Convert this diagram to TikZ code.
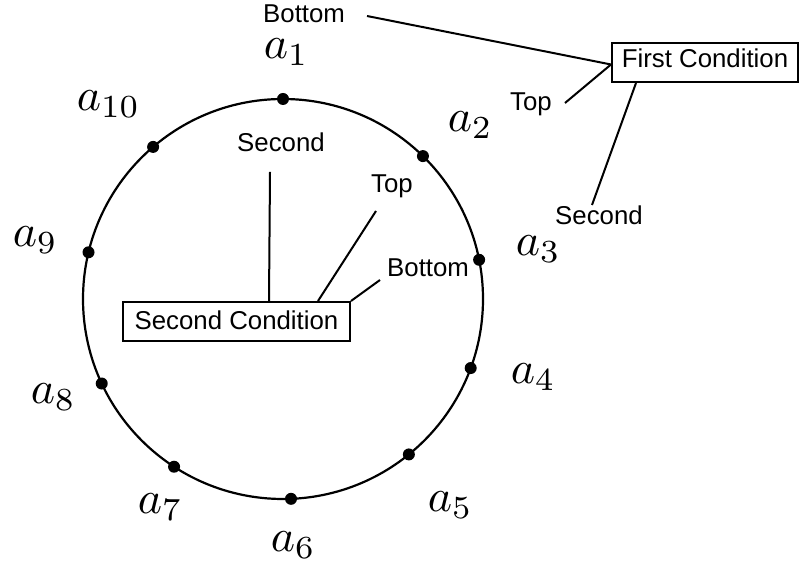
\documentclass[tikz,border=0pt]{standalone}
\usepackage{fontspec}
\newfontfamily\labfont{Liberation Sans}
\begin{document}
\begin{tikzpicture}[x=1pt,y=1pt,
  txt/.style={font=\labfont\fontsize{25.8}{30}\selectfont, inner sep=0pt, anchor=base west},
  mlab/.style={scale=4.6, inner sep=0pt, anchor=base west},
  cond/.style={draw, line width=2pt, font=\labfont\fontsize{25.8}{30}\selectfont, inner sep=0pt, minimum height=39pt, text height=18.5pt},
  dot/.style={circle, fill, inner sep=0pt, minimum size=12pt},
  conn/.style={line width=2pt}]
\useasboundingbox (0,0) rectangle (800,569);

% circle with points
\coordinate (O) at (283,270);
\draw[line width=2.2pt] (O) circle[radius=200];
\foreach \n/\ang in {1/90,2/45.6,3/11.3,4/-20.2,5/-51,6/-87.7,7/-123,8/-155,9/166.5,10/130.5}
  \node[dot] (p\n) at ([shift={(\ang:200)}]O) {};

% point labels
\node[mlab] (l1) at (263,510) {$a_1$};
\node[mlab] (l2) at (447,437) {$a_2$};
\node[mlab] (l3) at (515,313) {$a_3$};
\node[mlab] (l4) at (510,185) {$a_4$};
\node[mlab] (l5) at (427,57) {$a_5$};
\node[mlab] (l6) at (270,17) {$a_6$};
\node[mlab] (l7) at (137,55) {$a_7$};
\node[mlab] (l8) at (30,165) {$a_8$};
\node[mlab] (l9) at (12,322) {$a_9$};
\node[mlab] (l10) at (76,458) {$a_{10}$};

% condition boxes
\node[cond, minimum width=186pt, text depth=8pt] (fc) at (705,506.5) {First Condition};
\node[cond, minimum width=227pt, text depth=1.5pt] (sc) at (236.5,247.5) {Second Condition};

% labels near connectors
\node[txt] (tb1) at (263,546) {Bottom};
\node[txt] (tt1) at (510,458) {Top};
\node[txt] (ts1) at (555,344) {Second};
\node[txt] (ts2) at (237,417) {Second};
\node[txt] (tt2) at (371,376) {Top};
\node[txt] (tb2) at (387,292) {Bottom};

% free ends
\coordinate (c1) at (367,553);
\coordinate (c2) at (565,466);
\coordinate (c3) at (592,364);
\coordinate (c4) at (270,397);
\coordinate (c5) at (376,358);
\coordinate (c6) at (380,289);
\coordinate (fcL) at ([yshift=-2pt]fc.west);

% connectors
\draw[conn] (c1) -- (fcL);
\draw[conn] (c2) -- (fcL);
\draw[conn] ([xshift=25pt]fc.south west) -- (c3);
\draw[conn] ([xshift=147pt]sc.north west) -- (c4);
\draw[conn] ([xshift=196pt]sc.north west) -- (c5);
\draw[conn] (sc.north east) -- (c6);
\end{tikzpicture}
\end{document}
